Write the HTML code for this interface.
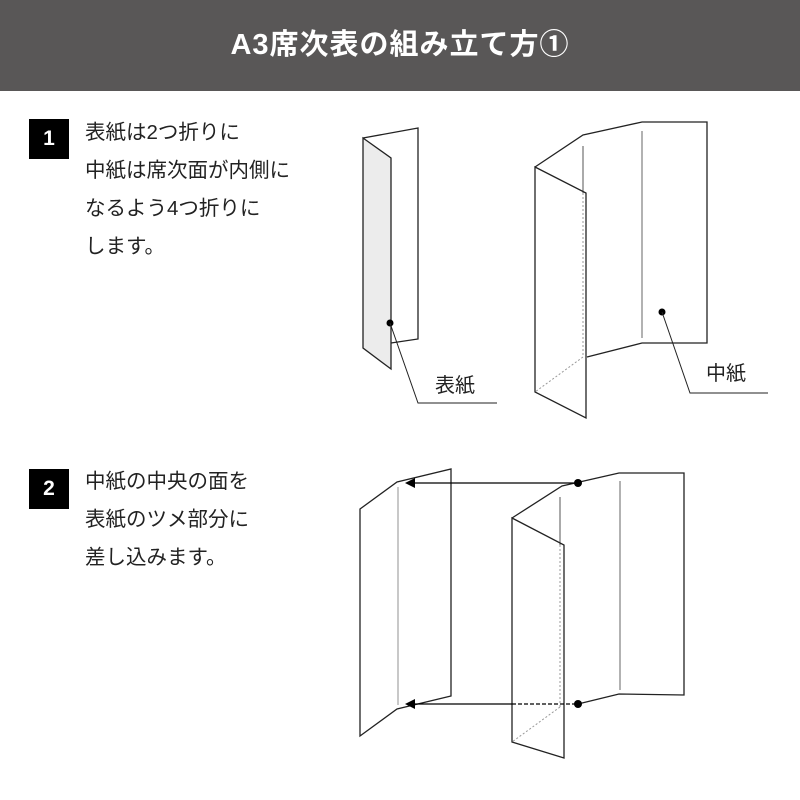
<!DOCTYPE html>
<html><head><meta charset="utf-8"><style>
body{margin:0;width:800px;height:800px;background:#fff;overflow:hidden;position:relative;font-family:"Liberation Sans","Noto Sans CJK JP",sans-serif}
.hdr{position:absolute;left:0;top:0;width:800px;height:91px;background:#595757;color:#fff;font-weight:bold;font-size:29px;text-align:center;line-height:91px;letter-spacing:1px}
.sq{position:absolute;left:29px;width:40px;height:40px;background:#000;color:#fff;font-weight:bold;font-size:21px;text-align:center;line-height:40px}
.t{position:absolute;left:85px;font-size:20.5px;color:#222;line-height:38px;white-space:nowrap}
svg{position:absolute;left:0;top:0}
</style></head><body>
<div class="hdr">A3席次表の組み立て方①</div>
<div class="sq" style="top:119px">1</div>
<div class="t" style="top:114px">表紙は2つ折りに<br>中紙は席次面が内側に<br>なるよう4つ折りに<br>します。</div>
<div class="sq" style="top:469px">2</div>
<div class="t" style="top:463px">中紙の中央の面を<br>表紙のツメ部分に<br>差し込みます。</div>
<svg width="800" height="800" viewBox="0 0 800 800" fill="none" stroke="#222" stroke-width="1.3">
<!-- cover 1 -->
<polyline points="363,138 418,128 418,339 391,343"/>
<polygon points="363,138 391,158 391,369 363,348" fill="#ececec"/>
<circle cx="390" cy="323" r="3.5" fill="#000" stroke="none"/>
<polyline points="390,323 418,403 497,403" stroke-width="1"/>
<text x="435" y="392" font-size="20" fill="#222" stroke="none" font-family="Liberation Sans,Noto Sans CJK JP,sans-serif">表紙</text>
<!-- middle 1 -->
<polyline points="535,167 583,135 642,122 707,122 707,343 642,343 587,357"/>
<line x1="642" y1="131" x2="642" y2="338" stroke="#888"/>
<line x1="583" y1="146" x2="583" y2="193" stroke="#555" stroke-width="1"/>
<line x1="583" y1="193" x2="583" y2="357" stroke="#999" stroke-width="1" stroke-dasharray="2,2"/>
<line x1="583" y1="357" x2="535" y2="392" stroke="#999" stroke-width="1" stroke-dasharray="2,2"/>
<polygon points="535,167 586,193 586,418 535,392"/>
<circle cx="662" cy="312" r="3.5" fill="#000" stroke="none"/>
<polyline points="662,312 690,393 768,393" stroke-width="1"/>
<text x="706" y="380" font-size="20" fill="#222" stroke="none" font-family="Liberation Sans,Noto Sans CJK JP,sans-serif">中紙</text>
<!-- cover 2 -->
<polygon points="360,509 397,482 451,469 451,696 397,709 360,736"/>
<line x1="398" y1="487" x2="398" y2="705" stroke="#aaa"/>
<!-- middle 2 -->
<polyline points="512,518 562,486 619,473 684,473 684,695 619,694 578,704"/>
<line x1="620" y1="481" x2="620" y2="690" stroke="#888"/>
<line x1="560" y1="497" x2="560" y2="545" stroke="#555" stroke-width="1"/>
<line x1="560" y1="545" x2="560" y2="707" stroke="#999" stroke-width="1" stroke-dasharray="2,2"/>
<line x1="560" y1="707" x2="512" y2="742" stroke="#999" stroke-width="1" stroke-dasharray="2,2"/>
<polygon points="512,518 564,545 564,758 512,742"/>
<!-- arrows -->
<line x1="578" y1="483" x2="412" y2="483" stroke="#000"/>
<polygon points="405,483 415,478 415,488" fill="#000" stroke="none"/>
<circle cx="578" cy="483" r="4" fill="#000" stroke="none"/>
<line x1="512" y1="704" x2="412" y2="704" stroke="#000"/>
<line x1="512" y1="704" x2="578" y2="704" stroke="#000" stroke-dasharray="4,2"/>
<polygon points="405,704 415,699 415,709" fill="#000" stroke="none"/>
<circle cx="578" cy="704" r="4" fill="#000" stroke="none"/>
</svg>
</body></html>
